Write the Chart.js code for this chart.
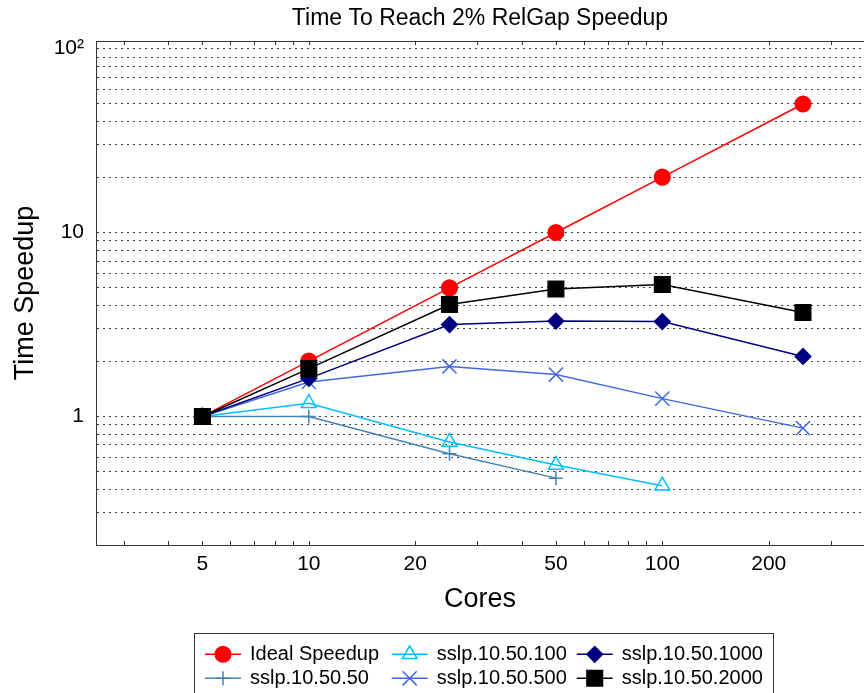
<!DOCTYPE html>
<html lang="en">
<head>
    <meta charset="UTF-8">
    <title>Time To Reach 2% RelGap Speedup</title>
    <script src="https://cdn.jsdelivr.net/npm/chart.js"></script>
    <style>
        html, body { margin: 0; padding: 0; background: white; }
    </style>
</head>
<body>
    <canvas id="speedupChart" width="864" height="693"></canvas>
    <script>
        // cores on the x axis, one value per core count (shorter series stop early)
        const cores = [5, 10, 25, 50, 100, 250];
        const idealSpeedup = [1, 2, 5, 10, 20, 50];
        const sslp50 = [1, 1.0, 0.627, 0.462];
        const sslp100 = [1, 1.18, 0.727, 0.545, 0.42];
        const sslp500 = [1, 1.54, 1.87, 1.69, 1.25, 0.864];
        const sslp1000 = [1, 1.61, 3.16, 3.30, 3.28, 2.12];
        const sslp2000 = [1, 1.82, 4.06, 4.93, 5.22, 3.67];

        const xTickLabels = [5, 10, 20, 50, 100, 200];
        const xMinorTicks = [3, 4, 5, 6, 7, 8, 9, 10, 20, 30, 40, 50, 60, 70, 80, 90, 100, 200, 300];
        const yGridTicks = [0.3, 0.4, 0.5, 0.6, 0.7, 0.8, 0.9, 1, 2, 3, 4, 5, 6, 7, 8, 9,
                            10, 20, 30, 40, 50, 60, 70, 80, 90, 100];
        const yTickLabels = { 1: '1', 10: '10', 100: '10\u00B2' };

        const FONT = "'Liberation Sans', Arial, Helvetica, sans-serif";
        Chart.defaults.font.family = FONT;
        Chart.defaults.color = '#000';

        function series(label, values, color, style, radius, filled, order) {
            return {
                label: label,
                data: values.map((v, i) => ({ x: cores[i], y: v })),
                borderColor: color,
                backgroundColor: filled ? color : 'rgba(0,0,0,0)',
                pointStyle: style,
                pointRadius: radius,
                pointBorderColor: color,
                pointBackgroundColor: filled ? color : 'rgba(0,0,0,0)',
                pointBorderWidth: 1.5,
                borderWidth: 1.5,
                tension: 0,
                fill: false,
                order: order
            };
        }

        const datasets = [
            series('Ideal Speedup', idealSpeedup, '#ff0000', 'circle', 7.8, true, 5),
            series('sslp.10.50.50', sslp50, '#4682b4', 'cross', 7, false, 4),
            series('sslp.10.50.100', sslp100, '#00bfff', 'triangle', 8.5, false, 3),
            series('sslp.10.50.500', sslp500, '#4169e1', 'crossRot', 10, false, 2),
            series('sslp.10.50.1000', sslp1000, '#000080', 'rectRot', 7.8, true, 1),
            series('sslp.10.50.2000', sslp2000, '#000000', 'rect', 11, true, 0)
        ];

        // top border + inward minor ticks, like the original figure
        const framePlugin = {
            id: 'frame',
            beforeDatasetsDraw(chart) {
                const { ctx, chartArea, scales } = chart;
                ctx.save();
                ctx.strokeStyle = '#333';
                ctx.lineWidth = 1;
                ctx.beginPath();
                ctx.moveTo(chartArea.left, chartArea.top + 0.5);
                ctx.lineTo(chartArea.right, chartArea.top + 0.5);
                xMinorTicks.forEach(v => {
                    const px = Math.round(scales.x.getPixelForValue(v)) + 0.5;
                    ctx.moveTo(px, chartArea.bottom);
                    ctx.lineTo(px, chartArea.bottom - 4);
                    ctx.moveTo(px, chartArea.top);
                    ctx.lineTo(px, chartArea.top + 4);
                });
                ctx.stroke();
                ctx.restore();
            }
        };

        // boxed legend, three columns, line sample with marker
        const legendPlugin = {
            id: 'boxLegend',
            afterDraw(chart) {
                const ctx = chart.ctx;
                const colX = [205, 391.7, 576.7];
                const rowY = [654.3, 678.3];
                const slots = [[0, 0], [0, 1], [1, 0], [1, 1], [2, 0], [2, 1]]; // dataset -> col,row
                ctx.save();
                ctx.strokeStyle = '#333';
                ctx.lineWidth = 1;
                ctx.strokeRect(194.5, 633.5, 579, 70);
                ctx.font = '20px ' + FONT;
                ctx.textBaseline = 'middle';
                ctx.fillStyle = '#000';
                chart.data.datasets.forEach((ds, i) => {
                    const x0 = colX[slots[i][0]];
                    const y = rowY[slots[i][1]];
                    ctx.strokeStyle = ds.borderColor;
                    ctx.lineWidth = ds.borderWidth;
                    ctx.beginPath();
                    ctx.moveTo(x0, y);
                    ctx.lineTo(x0 + 36, y);
                    ctx.stroke();
                    ctx.fillStyle = ds.pointBackgroundColor;
                    ctx.strokeStyle = ds.pointBorderColor;
                    ctx.lineWidth = ds.pointBorderWidth;
                    Chart.helpers.drawPoint(ctx, {
                        pointStyle: ds.pointStyle,
                        radius: ds.pointRadius,
                        rotation: 0,
                        borderWidth: ds.pointBorderWidth
                    }, x0 + 18, y);
                    ctx.fillStyle = '#000';
                    ctx.fillText(ds.label, x0 + 45, y);
                });
                ctx.restore();
            }
        };

        const ctx = document.getElementById('speedupChart').getContext('2d');
        const chart = new Chart(ctx, {
            type: 'line',
            data: { datasets: datasets },
            plugins: [framePlugin, legendPlugin],
            options: {
                responsive: false,
                animation: false,
                devicePixelRatio: 1,
                layout: { autoPadding: false, padding: { left: 0, right: 0, top: 0, bottom: 76 } },
                plugins: {
                    legend: { display: false },
                    tooltip: { enabled: false },
                    title: {
                        display: true,
                        text: 'Time To Reach 2% RelGap Speedup',
                        fullSize: false,
                        color: '#000',
                        font: { size: 23, weight: 'normal' },
                        padding: { top: 5, bottom: 8.4 }
                    }
                },
                scales: {
                    x: {
                        type: 'logarithmic',
                        min: 2.5,
                        max: 372,
                        afterBuildTicks: scale => {
                            scale.ticks = xMinorTicks.map(v => ({ value: v }));
                        },
                        afterFit: scale => { scale.height = 72; },
                        ticks: {
                            autoSkip: false,
                            maxRotation: 0,
                            padding: 7,
                            color: '#000',
                            font: { size: 21 },
                            callback: v => xTickLabels.includes(v) ? String(v) : ''
                        },
                        grid: { display: false, drawTicks: false },
                        border: { display: true, color: '#333', width: 1 },
                        title: {
                            display: true,
                            text: 'Cores',
                            color: '#000',
                            font: { size: 27 },
                            padding: { top: 0, bottom: 1 }
                        }
                    },
                    y: {
                        type: 'logarithmic',
                        min: 0.2,
                        max: 110,
                        afterBuildTicks: scale => {
                            scale.ticks = yGridTicks.map(v => ({ value: v }));
                        },
                        afterFit: scale => { scale.width = 96; },
                        ticks: {
                            autoSkip: false,
                            padding: 12,
                            color: '#000',
                            font: { size: 21 },
                            callback: v => yTickLabels[v] || ''
                        },
                        grid: { color: 'rgba(0,0,0,0.75)', lineWidth: 1, drawTicks: false },
                        border: { display: true, color: '#333', width: 1, dash: [2, 4] },
                        title: {
                            display: true,
                            text: 'Time Speedup',
                            color: '#000',
                            font: { size: 27 },
                            padding: { top: 9, bottom: 0 }
                        }
                    }
                }
            }
        });
    </script>
</body>
</html>
